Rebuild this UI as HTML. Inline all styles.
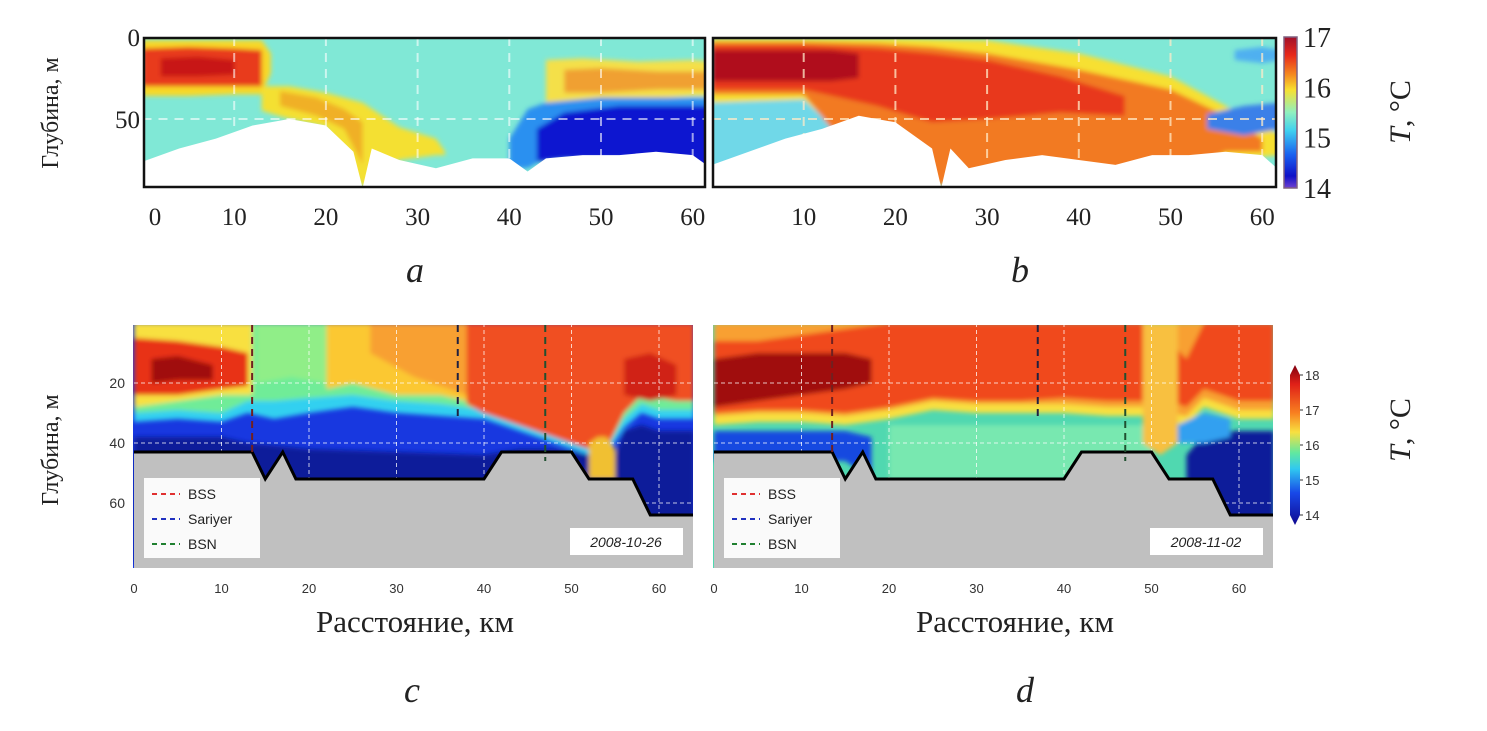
<!DOCTYPE html>
<html><head><meta charset="utf-8"><style>
html,body{margin:0;padding:0;background:#fff;}
svg{display:block;}
.serif{font-family:"Liberation Serif","Noto Serif CJK SC",serif;}
.sans{font-family:"Liberation Sans","Noto Sans CJK SC",sans-serif;}
</style></head><body>
<svg id="fig" width="1487" height="731" viewBox="0 0 1487 731" xmlns="http://www.w3.org/2000/svg">
<defs>
<filter id="blur" x="-5%" y="-5%" width="110%" height="110%"><feGaussianBlur stdDeviation="2.5"/></filter>
<clipPath id="clipA"><rect x="143" y="37" width="563" height="151"/></clipPath>
<clipPath id="clipB"><rect x="712" y="37" width="565" height="151"/></clipPath>
<clipPath id="clipC"><rect x="133" y="325" width="560" height="243"/></clipPath>
<clipPath id="clipD"><rect x="713" y="325" width="560" height="243"/></clipPath>
<linearGradient id="jet1" x1="0" y1="0" x2="0" y2="1">
<stop offset="0" stop-color="#a0102a"/><stop offset="0.12" stop-color="#e8281c"/><stop offset="0.25" stop-color="#f58a20"/><stop offset="0.35" stop-color="#f8e030"/><stop offset="0.5" stop-color="#90f0c0"/><stop offset="0.62" stop-color="#40d0f0"/><stop offset="0.78" stop-color="#1a60f0"/><stop offset="0.92" stop-color="#1010c8"/><stop offset="1" stop-color="#7040d0"/>
</linearGradient>
<linearGradient id="jet2" x1="0" y1="0" x2="0" y2="1">
<stop offset="0" stop-color="#800010"/><stop offset="0.12" stop-color="#e02018"/><stop offset="0.3" stop-color="#f88020"/><stop offset="0.42" stop-color="#f8e040"/><stop offset="0.55" stop-color="#60e8a0"/><stop offset="0.65" stop-color="#30c8f0"/><stop offset="0.8" stop-color="#1848e8"/><stop offset="1" stop-color="#100890"/>
</linearGradient>
</defs>
</svg>
<script>
// ---------- data: panel a ----------
const kmTicksAB = [0,10,20,30,40,50,60];
const kmTicksCD = [0,10,20,30,40,50,60];
const depthTicksAB = [0,50];
const depthTicksCD = [20,40,60];
const cbTicksAB = [17,16,15,14];
const cbTicksCD = [18,17,16,15,14];

const aFloorKm = [0,4,8,12,16,20,23,24,25,28,32,36,40,42,44,48,52,56,60,62];
const aFloorDepth = [76,68,62,54,50,54,70,92,68,75,80,74,74,82,74,72,72,70,72,80];
const aYelLKm = [0,5,10,13,14]; const aYelLTop = [2,2,2,2,10]; const aYelLBot = [36,36,35,35,22];
const aRedLKm = [0,5,10,13]; const aRedLTop = [7,6,7,8]; const aRedLBot = [30,30,30,30];
const aDrkLKm = [2,6,10]; const aDrkLTop = [13,12,14]; const aDrkLBot = [24,24,23];
const aTngKm = [13,16,20,24,28,32,33]; const aTngTop = [30,30,34,40,55,62,70]; const aTngBot = [45,50,55,92,75,72,72];
const aTngOKm = [15,19,22,24]; const aTngOTop = [33,37,44,52]; const aTngOBot = [42,48,56,78];
const aYelRKm = [44,48,54,60,62]; const aYelRTop = [14,13,15,14,15]; const aYelRBot = [40,38,38,36,36];
const aOrRKm = [46,50,56,62]; const aOrRTop = [20,19,21,21]; const aOrRBot = [34,34,32,32];
const aBluKm = [40,42,44,50,56,62]; const aBluTop = [62,44,40,37,37,37]; const aBluBot = [80,80,74,74,74,82];
const aNavKm = [43,46,52,58,62]; const aNavTop = [56,46,42,42,42]; const aNavBot = [76,74,74,74,82];
// ---------- data: panel b ----------
const bFloorKm = [0,4,8,12,16,20,24,25,26,28,32,36,40,44,48,52,56,60,62];
const bFloorDepth = [78,70,62,56,48,52,68,92,68,80,75,72,75,78,72,72,70,72,82];
const bYelKm = [0,10,20,30,40,50,56,62]; const bYelTop = [1,1,1,2,10,24,42,60]; const bYelBot = [40,38,90,90,90,90,75,72];
const bOrKm = [0,10,18,24,30,40,50,56,60]; const bOrTop = [3,3,4,6,10,20,32,48,62]; const bOrBot = [35,35,90,90,90,90,88,70,70];
const bRedKm = [0,10,18,24,30,38,45]; const bRedTop = [5,5,7,10,14,24,36]; const bRedBot = [32,32,42,52,50,46,48];
const bDrkKm = [0,5,13,16]; const bDrkTop = [8,8,8,10]; const bDrkBot = [27,27,27,25];
const bBluKm = [54,58,62]; const bBluTop = [47,42,40]; const bBluBot = [56,60,56];
// ---------- data: panel c ----------
const cFloorKm = [0,13.5,15,17,18.5,40,42,50,52,57,59,64];
const cFloorDepth = [43,43,52,43,52,52,43,43,52,52,64,64];
const cThermKm = [0,5,10,13,16,20,25,30,35,40,44,48,52,54,56,58,60,64];
const cThermTop = [0,0,0,0,0,0,0,0,0,0,0,0,0,0,0,0,0,0];
const cThermBot = [33,32,33,30,32,30,28,30,31,32,36,40,44,44,35,30,32,32];
const cGrnBot = [30,29,30,26,26,25,24,26,27,29,32,36,40,42,32,27,29,29];
const cYelLKm = [0,5,10,13.5]; const cYelLTop = [0,0,0,0]; const cYelLBot = [28,26,24,24];
const cRedLKm = [0,5,10,13]; const cRedLTop = [5,6,8,10]; const cRedLBot = [24,24,22,21];
const cDrkLKm = [2,5,9]; const cDrkLTop = [12,11,14]; const cDrkLBot = [20,19,19];
const cYelMKm = [22,25,30,35,38,40]; const cYelMTop = [0,0,0,0,0,0]; const cYelMBot = [22,20,24,24,26,30];
const cOrMKm = [27,32,38]; const cOrMTop = [0,0,0]; const cOrMBot = [10,18,24];
const cRedRKm = [38,40,44,48,52,54,56,58,62,64]; const cRedRTop = [0,0,0,0,0,0,0,0,0,0]; const cRedRBot = [27,30,34,38,42,42,30,24,26,26];
const cDrkRKm = [56,59,62]; const cDrkRTop = [12,10,14]; const cDrkRBot = [24,26,24];
const cNavKm = [0,10,13,20,30,40,44,48,52,54,56,58,60,64]; const cNavTop = [38,38,40,42,43,44,42,42,44,52,36,34,36,36]; const cNavBot = [80,80,80,80,80,80,80,80,80,80,80,80,80,80];
const cPlmKm = [52,53,54,55]; const cPlmTop = [40,38,38,42]; const cPlmBot = [52,52,52,52];
// ---------- data: panel d ----------
const dFloorKm = cFloorKm; const dFloorDepth = cFloorDepth;
const dBluKm = [0,5,10,15,18]; const dBluTop = [36,36,36,36,38]; const dBluBot = [46,46,46,46,52];
const dThermKm = [0,5,10,15,20,25,30,35,40,45,50,52,54,56,58,60,64];
const dThermTop = [0,0,0,0,0,0,0,0,0,0,0,0,0,0,0,0,0];
const dThermBot = [34,33,33,34,32,29,30,30,30,31,31,33,34,28,30,32,32];
const dYelBot = [31,30,30,31,29,26,27,27,27,28,28,30,31,25,27,29,29];
const dRedKm = [0,5,10,15,20,25,30,35,40,45,50,52,54,56,58,60,64]; const dRedTop = [6,6,4,2,0,0,0,0,0,0,0,6,12,0,0,0,0]; const dRedBot = [30,29,29,30,28,25,26,26,25,26,26,26,28,22,24,26,26];
const dDrkKm = [0,5,10,15,18]; const dDrkTop = [12,10,10,10,12]; const dDrkBot = [28,26,24,22,20];
const dNavKm = [54,56,58,60,64]; const dNavTop = [44,37,36,36,36]; const dNavBot = [80,80,80,80,80];

const NS = "http://www.w3.org/2000/svg";
const svg = document.getElementById('fig');
function mk(tag, attrs, parent){ const e=document.createElementNS(NS,tag); for(const k in attrs) e.setAttribute(k,attrs[k]); (parent||svg).appendChild(e); return e; }
function txt(s, attrs, parent){ const e=mk('text',attrs,parent); e.textContent=s; return e; }

function axis(x0, kmScale, y0, mScale){ return { x: k=>x0+kmScale*k, y: d=>y0+mScale*d }; }
const PA = axis(142.5, 9.17, 37, 1.64);
const PB = axis(712, 9.17, 37, 1.64);
const PC = axis(134, 8.75, 323, 3);
const PD = axis(714, 8.75, 323, 3);

function band(g, P, km, top, bot, color, name){
  const pts = km.map((k,i)=>P.x(k)+','+P.y(top[i]));
  for(let i=km.length-1;i>=0;i--) pts.push(P.x(km[i])+','+P.y(bot[i]));
  const p = mk('polygon',{points:pts.join(' '), fill:color}, g);
  
  
}
function floor(g, P, km, depth, maxD, color, name, line){
  const pts = [P.x(km[0])+','+P.y(maxD)];
  km.forEach((k,i)=>pts.push(P.x(k)+','+P.y(depth[i])));
  pts.push(P.x(km[km.length-1])+','+P.y(maxD));
  const p = mk('polygon',{points:pts.join(' '), fill:color}, g);
  
  
  if(line){
    const l = mk('polyline',{points:km.map((k,i)=>P.x(k)+','+P.y(depth[i])).join(' '), fill:'none', stroke:'#000', 'stroke-width':3, 'stroke-linejoin':'miter'}, g);
    
    
  }
}
function panelGroup(clip, name){
  const g = mk('g',{'clip-path':'url(#'+clip+')'});
  
  
  return g;
}
function grid(g, P, kms, depths, kmMin, kmMax, dMin, dMax, col, dash, w){
  kms.forEach(k=>{ if(k===0) return; const l=mk('line',{x1:P.x(k),x2:P.x(k),y1:P.y(dMin),y2:P.y(dMax),stroke:col,'stroke-width':w,'stroke-dasharray':dash},g);
      });
  depths.forEach(d=>{ if(d===0) return; const l=mk('line',{x1:P.x(kmMin),x2:P.x(kmMax),y1:P.y(d),y2:P.y(d),stroke:col,'stroke-width':w,'stroke-dasharray':dash},g);
      });
}

// ===== Panel a =====
{
  const g = panelGroup('clipA','panel-a');
  mk('rect',{x:143,y:37,width:563,height:151,fill:'#80e8d6'},g);
  const b = mk('g',{filter:'url(#blur)'},g);
  band(b,PA,aYelLKm,aYelLTop,aYelLBot,'#f8d828','warm-layer-yellow');
  band(b,PA,aRedLKm,aRedLTop,aRedLBot,'#e83a1c','warm-layer-red');
  band(b,PA,aDrkLKm,aDrkLTop,aDrkLBot,'#c81414','warm-core');
  band(b,PA,aTngKm,aTngTop,aTngBot,'#f4e030','warm-tongue');
  band(b,PA,aTngOKm,aTngOTop,aTngOBot,'#f0b028','warm-tongue-core');
  band(b,PA,aYelRKm,aYelRTop,aYelRBot,'#f4e048','right-warm-layer');
  band(b,PA,aOrRKm,aOrRTop,aOrRBot,'#f0a030','right-warm-core');
  band(b,PA,aBluKm,aBluTop,aBluBot,'#2a90f0','cold-layer');
  band(b,PA,aNavKm,aNavTop,aNavBot,'#0a14d0','cold-core');
  grid(g,PA,kmTicksAB,[50],0,62,0,92,'rgba(255,255,255,0.6)','9,7',2);
  floor(g,PA,aFloorKm,aFloorDepth,95,'#ffffff','seafloor-a',false);
  mk('rect',{x:144,y:38,width:561,height:149,fill:'none',stroke:'#111','stroke-width':2.5});
}
// ===== Panel b =====
{
  const g = panelGroup('clipB','panel-b');
  mk('rect',{x:712,y:37,width:565,height:151,fill:'#80e8d6'},g);
  const b = mk('g',{filter:'url(#blur)'},g);
  band(b,PB,[0,6,12,18],[36,36,38,40],[80,70,60,55],'#70d8e8','left-cool');
  band(b,PB,bYelKm,bYelTop,bYelBot,'#f7e030','warm-fringe');
  band(b,PB,bOrKm,bOrTop,bOrBot,'#f27a22','warm-layer');
  band(b,PB,bRedKm,bRedTop,bRedBot,'#e8381c','warm-body');
  band(b,PB,bDrkKm,bDrkTop,bDrkBot,'#b0101a','warm-core');
  band(b,PB,bBluKm,bBluTop,bBluBot,'#3a80e8','cold-patch');
  band(b,PB,[57,60,62],[8,6,8],[14,16,14],'#50b0f0','cold-patch-top');
  grid(g,PB,kmTicksAB,[50],0,62,0,92,'rgba(255,235,200,0.75)','9,7',2);
  floor(g,PB,bFloorKm,bFloorDepth,95,'#ffffff','seafloor-b',false);
  mk('rect',{x:713,y:38,width:563,height:149,fill:'none',stroke:'#111','stroke-width':2.5});
}
// ===== Panel c / d helpers =====
function legend(x,y){
  const g = mk('g',{});
   
  mk('rect',{x:x,y:y,width:116,height:80,fill:'#fff',opacity:0.92},g);
  const items=[['BSS','#e03030'],['Sariyer','#2030c0'],['BSN','#208030']];
  items.forEach((it,i)=>{
    const l=mk('line',{x1:x+8,x2:x+36,y1:y+16+i*25,y2:y+16+i*25,stroke:it[1],'stroke-width':2,'stroke-dasharray':'5,4'},g);
     
    const t=txt(it[0],{x:x+44,y:y+21+i*25,'font-size':14,fill:'#222',class:'sans'},g);
     
  });
}
function dateBox(x,y,s){
  mk('rect',{x:x,y:y,width:113,height:27,fill:'#fff'});
  const t=txt(s,{x:x+56,y:y+19,'font-size':14,'font-style':'italic','text-anchor':'middle',fill:'#222',class:'sans'});
   
}
function stations(P){
  [[13.5,'#702020',44],[37,'#202040',31],[47,'#205030',46]].forEach((s,i)=>{
    const l=mk('line',{x1:P.x(s[0]),x2:P.x(s[0]),y1:325,y2:P.y(s[2]),stroke:s[1],'stroke-width':2,'stroke-dasharray':'7,5'});
     
  });
}
// ===== Panel c =====
{
  const g = panelGroup('clipC','panel-c');
  mk('rect',{x:133,y:325,width:560,height:243,fill:'#1838e0'},g);
  const b = mk('g',{filter:'url(#blur)'},g);
  band(b,PC,cThermKm,cThermTop,cThermBot,'#30d0f0','thermocline-cyan');
  band(b,PC,cThermKm,cThermTop,cGrnBot,'#70ec98','upper-green');
  band(b,PC,[14,18,22],[0,0,0],[20,18,20],'#90ee88','upper-light-green');
  band(b,PC,cYelLKm,cYelLTop,cYelLBot,'#f8e040','left-yellow');
  band(b,PC,cRedLKm,cRedLTop,cRedLBot,'#e83018','left-red');
  band(b,PC,cDrkLKm,cDrkLTop,cDrkLBot,'#a00a10','left-core');
  band(b,PC,cYelMKm,cYelMTop,cYelMBot,'#fbc830','mid-yellow');
  band(b,PC,cOrMKm,cOrMTop,cOrMBot,'#f8a030','mid-orange');
  band(b,PC,cRedRKm,cRedRTop,cRedRBot,'#f05020','right-red');
  band(b,PC,cDrkRKm,cDrkRTop,cDrkRBot,'#d02018','right-core');
  band(b,PC,cNavKm,cNavTop,cNavBot,'#0a1a9a','bottom-navy');
  band(b,PC,cPlmKm,cPlmTop,cPlmBot,'#f0c030','plume');
  grid(g,PC,kmTicksCD,depthTicksCD,0,64,0,82,'rgba(255,255,255,0.75)','4,3',1);
  floor(g,PC,cFloorKm,cFloorDepth,90,'#c0c0c0','seafloor-c',true);
  stations(PC);
  legend(144,478);
  dateBox(570,528,'2008-10-26');
}
// ===== Panel d =====
{
  const g = panelGroup('clipD','panel-d');
  mk('rect',{x:713,y:325,width:560,height:243,fill:'#50d8b0'},g);
  const b = mk('g',{filter:'url(#blur)'},g);
  band(b,PD,[20,40,50],[34,34,34],[52,52,52],'#78e8b0','lower-green');
  band(b,PD,dBluKm,dBluTop,dBluBot,'#1848e0','lower-blue');
  band(b,PD,dThermKm,dThermTop,dThermBot,'#f8e040','thermocline-yellow');
  band(b,PD,dThermKm,dThermTop,dYelBot,'#f8a030','upper-orange');
  band(b,PD,dRedKm,dRedTop,dRedBot,'#f04a1c','upper-red');
  band(b,PD,dDrkKm,dDrkTop,dDrkBot,'#a00a10','left-core');
  band(b,PD,[49,51,53],[0,0,0],[40,44,40],'#f8c040','plume');
  band(b,PD,dNavKm,dNavTop,dNavBot,'#0a1a9a','bottom-navy');
  band(b,PD,[53,56,59],[34,30,32],[40,40,38],'#30a0f0','navy-edge');
  grid(g,PD,kmTicksCD,depthTicksCD,0,64,0,82,'rgba(255,255,255,0.75)','4,3',1);
  floor(g,PD,dFloorKm,dFloorDepth,90,'#c0c0c0','seafloor-d',true);
  stations(PD);
  legend(724,478);
  dateBox(1150,528,'2008-11-02');
}
// ===== Tick labels =====
kmTicksAB.forEach(k=>{
  const t=txt(String(k),{x:k===0?155:PA.x(k),y:225,'font-size':25,'text-anchor':'middle',fill:'#222',class:'serif'});
   
  if(k>0){ const t2=txt(String(k),{x:PB.x(k),y:225,'font-size':25,'text-anchor':'middle',fill:'#222',class:'serif'});
    }
});
depthTicksAB.forEach(d=>{
  const t=txt(String(d),{x:140,y:PA.y(d)+9,'font-size':25,'text-anchor':'end',fill:'#222',class:'serif'});
   
});
kmTicksCD.forEach(k=>{
  [PC,PD].forEach((P,i)=>{ const t=txt(String(k),{x:P.x(k),y:593,'font-size':13,'text-anchor':'middle',fill:'#333',class:'sans'});
    });
});
depthTicksCD.forEach(d=>{
  const t=txt(String(d),{x:125,y:PC.y(d)+5,'font-size':14,'text-anchor':'end',fill:'#333',class:'sans'});
   
});
// ===== Colorbars =====
{
  const r=mk('rect',{x:1284,y:37,width:13,height:151,fill:'url(#jet1)',stroke:'#806080','stroke-width':1.5});
   
  cbTicksAB.forEach(v=>{ const y=37+(17-v)/3*151;
    const t=txt(String(v),{x:1303,y:y+10,'font-size':28,fill:'#222',class:'serif'});
      });
  const r2=mk('polygon',{points:'1290,375 1295,365 1300,375 1300,515 1295,525 1290,515',fill:'url(#jet2)'});
   
  cbTicksCD.forEach(v=>{ const y=375+(18-v)/4*140;
    mk('line',{x1:1300,x2:1303,y1:y,y2:y,stroke:'#333','stroke-width':1});
    const t=txt(String(v),{x:1305,y:y+5,'font-size':13,fill:'#333',class:'sans'});
      });
}
// ===== Titles =====
function rotText(s,x,y,size,name){
  const t=mk('text',{x:0,y:0,transform:'translate('+x+','+y+') rotate(-90)','font-size':size,'text-anchor':'middle',fill:'#222',class:'serif'});
  t.innerHTML=s;   return t;
}
rotText('Глубина, м',58,113,24,'y-axis-title-ab');
rotText('Глубина, м',58,450,24,'y-axis-title-cd');
rotText('<tspan font-style="italic">T</tspan>, °C',1410,112,30,'colorbar-title-ab');
rotText('<tspan font-style="italic">T</tspan>, °C',1410,430,30,'colorbar-title-cd');
[['Расстояние, км',415,632,'x-axis-title-c'],['Расстояние, км',1015,632,'x-axis-title-d']].forEach(a=>{
  const t=txt(a[0],{x:a[1],y:a[2],'font-size':31,'text-anchor':'middle',fill:'#222',class:'serif'});
   
});
[['a',415,282],['b',1020,282],['c',412,702],['d',1025,702]].forEach(a=>{
  const t=txt(a[0],{x:a[1],y:a[2],'font-size':36,'font-style':'italic','text-anchor':'middle',fill:'#222',class:'serif'});
   
});
</script>
</body></html>
